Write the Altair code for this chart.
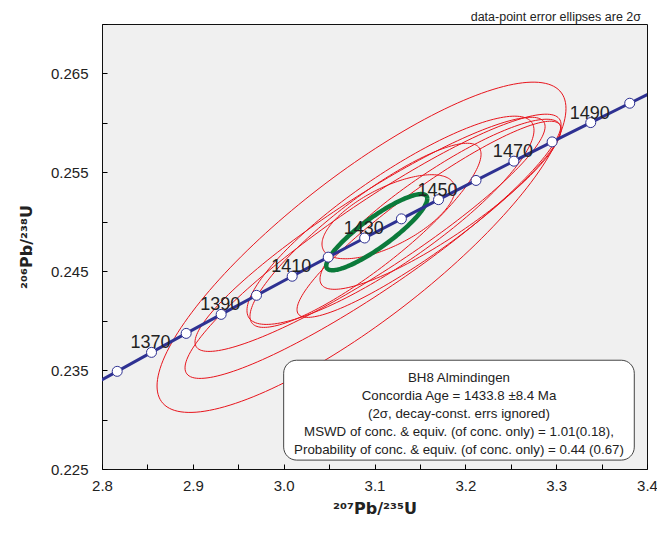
import numpy as np
import pandas as pd
import altair as alt

# ---- concordia (U-Pb) reference points, read/derived per 10 Ma ----
ages = [1350, 1360, 1370, 1380, 1390, 1400, 1410, 1420, 1430, 1440,
        1450, 1460, 1470, 1480, 1490, 1500, 1510]
conc_x = [2.77933, 2.81674, 2.85451, 2.89266, 2.93119, 2.97009, 3.00939, 3.04907,
          3.08915, 3.12962, 3.17049, 3.21176, 3.25345, 3.29554, 3.33805, 3.38099, 3.42435]
conc_y = [0.232961, 0.234876, 0.236793, 0.238713, 0.240636, 0.242562, 0.244492, 0.246423,
          0.248359, 0.250296, 0.252238, 0.254181, 0.256128, 0.258078, 0.260031, 0.261988, 0.263947]
marker_ages = [1360, 1370, 1380, 1390, 1400, 1410, 1420, 1430, 1440, 1450,
               1460, 1470, 1480, 1490, 1500]
label_ages = [1370, 1390, 1410, 1430, 1450, 1470, 1490]

# ---- data-point error ellipses (2 sigma): centre, 2s errors, rho ----
ell_x = [3.0857, 3.0984, 3.0951, 3.1176, 3.0901, 3.1600, 3.1727, 3.1154]
ell_sx = [0.2251, 0.2070, 0.1927, 0.1580, 0.1272, 0.1453, 0.1327, 0.0732]
ell_y = [0.24742, 0.24752, 0.24873, 0.25015, 0.24863, 0.25025, 0.25177, 0.25051]
ell_sy = [0.01670, 0.01336, 0.01184, 0.01053, 0.00931, 0.00992, 0.00860, 0.00425]
ell_rho = [0.84, 0.92, 0.92, 0.865, 0.88, 0.92, 0.88, 0.65]

# concordia age ellipse
age_x, age_sx, age_y, age_sy, age_rho = 3.1025, 0.0556, 0.24895, 0.00385, 0.88

x_ticks = [2.8, 2.85, 2.9, 2.95, 3.0, 3.05, 3.1, 3.15, 3.2, 3.25, 3.3, 3.35, 3.4]
y_ticks = [0.225, 0.23, 0.235, 0.24, 0.245, 0.25, 0.255, 0.26, 0.265, 0.27]

box_x = [3.0, 3.386]
box_y = [0.2259, 0.2360]
box_lines = ["BH8 Almindingen",
             "Concordia Age = 1433.8 \u00b18.4 Ma",
             "(2\u03c3, decay-const. errs ignored)",
             "MSWD of conc. & equiv. (of conc. only) = 1.01(0.18),",
             "Probability of conc. & equiv. (of conc. only) = 0.44 (0.67)"]
note = "data-point error ellipses are 2\u03c3"
x_title = "\u00b2\u2070\u2077Pb/\u00b2\u00b3\u2075U"
y_title = "\u00b2\u2070\u2076Pb/\u00b2\u00b3\u2078U"

W, H = 545, 445
RED = "#E8141C"
NAVY = "#2E3192"
GREEN = "#0B7A3A"


def ellipse(cx, sx, cy, sy, rho, n=181):
    t = np.linspace(0, 2 * np.pi, n)
    return cx + sx * np.cos(t), cy + sy * (rho * np.cos(t) + np.sqrt(1 - rho ** 2) * np.sin(t))


rows = []
for k in range(len(ell_x)):
    ex, ey = ellipse(ell_x[k], ell_sx[k], ell_y[k], ell_sy[k], ell_rho[k])
    for i, (a, b) in enumerate(zip(ex, ey)):
        rows.append({"id": k, "i": i, "x": a, "y": b})
ell_df = pd.DataFrame(rows)

gx, gy = ellipse(age_x, age_sx, age_y, age_sy, age_rho)
green_df = pd.DataFrame({"i": range(len(gx)), "x": gx, "y": gy})

conc_df = pd.DataFrame({"age": ages, "x": conc_x, "y": conc_y})
mark_df = conc_df[conc_df["age"].isin(marker_ages)]
lab_df = conc_df[conc_df["age"].isin(label_ages)].assign(label=lambda d: d["age"].astype(str))

xs = alt.Scale(domain=[2.8, 3.4], nice=False, zero=False)
ys = alt.Scale(domain=[0.225, 0.27], nice=False, zero=False)

x_axis = alt.Axis(values=x_ticks, labelExpr="abs(datum.value*10 - round(datum.value*10)) < 0.000001 ? format(datum.value, '.1f') : ''",
                  tickSize=5, offset=-5, domain=False, grid=False, labelPadding=9,
                  labelFontSize=15, labelColor="#222", tickColor="#000", labelFlush=False, labelOverlap=False,
                  title=x_title, titleFont="DejaVu Sans", titleFontSize=16, titleFontWeight="bold",
                  titleColor="#222", titlePadding=7)
y_axis = alt.Axis(values=y_ticks, labelExpr="abs(datum.value*100 - 0.5 - round(datum.value*100 - 0.5)) < 0.000001 ? format(datum.value, '.3f') : ''",
                  tickSize=5, offset=-5, domain=False, grid=False, labelPadding=14,
                  labelFontSize=15, labelColor="#222", tickColor="#000", labelFlush=False, labelOverlap=False,
                  title=y_title, titleFont="DejaVu Sans", titleFontSize=16, titleFontWeight="bold",
                  titleColor="#222", titlePadding=16)

base_x = alt.X("x:Q", scale=xs, axis=x_axis)
base_y = alt.Y("y:Q", scale=ys, axis=y_axis)

red = alt.Chart(ell_df).mark_line(clip=True, color=RED, strokeWidth=1).encode(
    x=base_x, y=base_y, detail="id:N", order="i:Q")
green = alt.Chart(green_df).mark_line(clip=True, color=GREEN, strokeWidth=4.5).encode(
    x="x:Q", y="y:Q", order="i:Q")
conc = alt.Chart(conc_df).mark_line(clip=True, color=NAVY, strokeWidth=3).encode(
    x="x:Q", y="y:Q", order="age:Q")
marks = alt.Chart(mark_df).mark_point(shape="circle", filled=True, fill="white", stroke=NAVY,
                                      strokeWidth=1, size=100, opacity=1).encode(x="x:Q", y="y:Q")
labels = alt.Chart(lab_df).mark_text(fontSize=18, color="#222", align="center", baseline="alphabetic",
                                     dx=-1, dy=-4).encode(x="x:Q", y="y:Q", text="label:N")

box_df = pd.DataFrame({"x": [box_x[0]], "x2": [box_x[1]], "y": [box_y[0]], "y2": [box_y[1]]})
box = alt.Chart(box_df).mark_rect(fill="white", stroke="#444", strokeWidth=1, cornerRadius=13).encode(
    x="x:Q", x2="x2:Q", y="y:Q", y2="y2:Q")
box_text = alt.Chart(pd.DataFrame({"x": [(box_x[0] + box_x[1]) / 2], "y": [box_y[1]]})).mark_text(
    text=box_lines, fontSize=13.3, lineHeight=18, color="#222", align="center", baseline="top",
    dy=11).encode(x="x:Q", y="y:Q")
note_mark = alt.Chart(pd.DataFrame({"t": [note]})).mark_text(
    fontSize=12.5, color="#222", align="right", baseline="alphabetic").encode(
    x=alt.value(W - 6), y=alt.value(-3), text="t:N")

chart = alt.layer(red, green, conc, marks, labels, box, box_text, note_mark).properties(
    width=W, height=H, autosize=alt.AutoSizeParams(type="none"),
    padding={"left": 94, "top": 16, "right": 10, "bottom": 50}
).configure(font="Liberation Sans").configure_view(fill="#F0F0F0", stroke="#111", strokeWidth=1)

chart.save("out.html", embed_options={"renderer": "svg", "actions": False})
